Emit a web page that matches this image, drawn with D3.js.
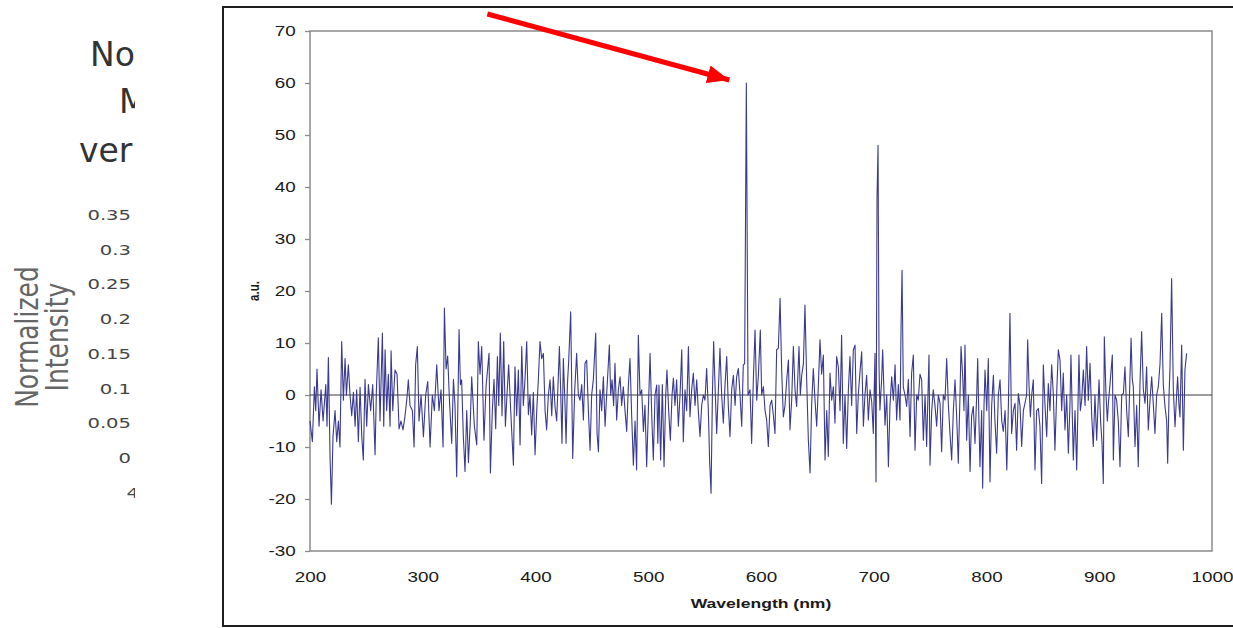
<!DOCTYPE html>
<html>
<head>
<meta charset="UTF-8">
<title>Spectrum</title>
<script src="https://d3js.org/d3.v7.min.js"></script>
<style>
  html, body { margin: 0; padding: 0; background: #fff; }
  svg { display: block; }
</style>
</head>
<body>
<div id="chart"></div>
<script>
// wavelength (nm) and intensity (a.u.), 10 per row
const wavelengthNm = [
  200,202.1,203.9,205.1,206.2,208,209.8,211.6,214,215.1,
  216.3,217.8,219,220.4,222.2,223.7,225.2,226.6,228.1,229.6,
  231.1,232.3,234,235.5,237,238.5,240,241.4,242.9,244.4,
  245.9,247.3,248.8,250.3,251.8,253.8,255.6,257.7,258.9,260.6,
  262.1,264.2,265.4,266.6,268,269.5,271,271.9,273.4,275.4,
  277.2,279,280.7,282.5,284.3,285.8,287.2,288.7,290.8,292.3,
  293.7,295.2,296.7,298.5,300.6,302.6,304.4,306.5,308.5,310.3,
  312.4,314.4,316.2,318,319.2,320.7,322.1,323.9,325.7,327.2,
  328.6,330.1,331.3,332.2,333.4,334.5,336,337.5,339,340.5,
  342.2,343.4,345.8,347.9,349.3,350.8,352.3,354.3,356.1,358.8,
  360,361.7,363.2,364.7,366.2,367.4,368.8,370.3,371.8,373.3,
  374.7,376.2,378,380.4,381.8,383.3,384.8,386.3,387.8,389.2,
  390.7,392.2,393.7,395.1,396.6,398.1,399.6,401.1,402.5,404,
  405.5,407,408.5,409.9,411.4,412.9,414.4,415.8,417.3,418.8,
  421.2,422.3,423.5,424.7,426.2,427.1,428.3,429.4,431.2,433,
  434.8,436.5,438,439.5,441,442.5,443.9,445.4,446.9,448.4,
  449.8,451.3,453.4,454.6,455.8,457.2,458.7,460.2,461.7,463.1,
  465.5,466.7,467.9,469.3,470.5,472,473.5,475,476.4,477.9,
  479.4,480.9,482.4,483.8,485.3,486.8,488.3,489.7,491.2,492.7,
  494.2,495.7,497.1,498.6,500.1,501.6,503.1,504.5,506,507.5,
  508.5,509.5,511,512.5,514,515.5,516.6,518.1,519.6,521.1,
  522.3,523.7,525.2,526.7,528.2,529.7,531.1,532.6,534.1,535.6,
  537,538.5,540,541.5,543,544.4,545.9,547.4,548.9,550.3,
  551.8,553.3,554.5,555.7,556.9,558,559.2,560.7,562.2,563.6,
  565.1,566.6,568.1,569.6,571,572.5,574,575.5,577,578.4,
  579.9,581.4,582.9,584.3,585.5,587,588.5,590.3,591.7,593.2,
  594.7,596.2,597.6,599.4,600.6,602.1,603.6,605,606.5,608,
  609.5,611,612.4,613.9,615.4,616.9,618.3,619.8,621.3,622.8,
  624.3,625.7,627.2,628.7,630.2,631.6,633.7,634.9,636.1,637.6,
  639,640.5,642,643.5,644.9,646.4,647.9,649.4,650.9,652.3,
  653.8,655.3,656.8,658.3,659.7,661.2,662.7,664.2,665.6,667.1,
  668.6,670.1,671.5,673,674.5,676,677.5,678.9,680.4,681.9,
  683.4,684.9,686.3,687.8,689.3,690.8,692.2,693.7,695.2,696.7,
  698.2,699.6,701.1,702,702.9,703.8,704.7,705.5,707,707.9,
  710,711.5,713,714.4,715.9,717.4,718.9,720.3,721.8,723.3,
  724.2,725.1,726.2,727.7,729.2,730.7,732.2,733.6,735.1,736.6,
  738.1,739.5,741,742.5,744,745.5,746.9,749,749.9,751.4,
  752.8,754.3,755.8,757.3,758.8,760.2,761.7,763.2,764.7,766.2,
  767.6,769.1,770.6,772.1,773.5,775,776.5,777.4,778.9,780,
  780.9,782.4,783.9,785.4,786.8,788.3,789.8,791.3,792.2,793.3,
  794.2,795.7,796.6,797.8,798.7,800.2,801.6,803.1,804.6,806.1,
  807.5,809,810.5,812,813.5,814.9,816.5,818,819.4,820.8,
  822.3,823.8,825.3,826.7,828.2,829.7,831.2,832.7,834.1,835.6,
  836.5,837.7,838.9,840.1,841.5,843,844.5,846,847.4,848.9,
  850.4,851.9,853.4,854.8,856.3,857.8,859.3,860.7,862.2,863.7,
  865.2,866.7,868.1,869.6,871.1,872.6,874,874.9,877,878.5,
  880,882,883.2,884.4,885.9,887.4,888.8,890.3,891.8,893.3,
  894.7,896.2,897.7,899.8,901.2,902.4,903.6,904.5,906,907.2,
  908.1,909.5,911.6,912.5,914,915.4,916.9,918.4,919.9,921.4,
  922.8,924.3,925.8,928.2,929.3,930.2,931.7,933.2,934.6,936.1,
  937.6,939.1,940.6,942,943.5,945,946.5,948,949.4,950.9,
  952.4,953.9,955.4,956.8,958.3,959.8,960.7,961.9,962.7,964.2,
  965.7,967.2,968.6,969.5,970.7,971.6,973.1,974.6,976,977.5
];
const intensityAU = [
  -5,-9,1.6,-3,5,-6,1,-5,2,-6,
  7.2,-12,-21,-8,-3,-9,-5,-10,10.3,-1,
  7,0,5.8,0,-4,0.5,-6,1,-9,1.5,
  -8,-12.5,3,-6,2,-3,2,-11.5,1,11,
  -5,11.9,-6,8.7,-3,4,-6,8.5,-3,4.8,
  4,-6.5,-5,-6.7,-4,-1,2.9,-2,-3,-10,
  5.8,9.3,-5,0,-8,0,2.6,-10,0,-3,
  5.8,-3,1,-10,16.7,5,7.5,-2,-9.3,3,
  -2,-15.7,0,12.6,2,2.9,-8,-14.7,-3,-13,
  -5,3.5,-6,-9.6,10.3,4,9.3,-8.7,1.6,8,
  -15,-3,3,-6.5,7.4,-2,11.9,-4,10.3,-6,
  0,5.8,-3,-13.5,5.4,-4,4.8,-9.6,9.3,-2,
  3,10.3,-3.8,0,-7.7,0.5,-11.5,-3,2.9,10.3,
  7,8,-3,-6.7,0,2.9,-4,3.5,-2.2,-5,
  9.3,1,-9.3,7,-2,-9.3,2,6.4,16,-12.2,
  1,8,0,-1,2,-4.8,6.1,6.7,-3,-10.6,
  0,3,11.9,-7.4,-10.9,1,-3,3.5,-6,0,
  9.6,0,2.9,-2,6.1,-4.8,1,3.5,-2,1.6,
  -3,-7,2,7,-4,-13.5,-5,-14.4,11.5,0,
  1,-7,-2,-13.8,-3,8,-4,-12.5,0,1.9,
  -9.3,1.9,-12.5,2,-13.8,0,4.8,-3,-8.7,0,
  3.2,-2,2.9,-6,0,8.7,-9,1,-3,9.3,
  -4.2,1,4.2,-2,2.9,-3,-8,-2,0,-1,
  5.1,-3,-13.1,-18.9,0,10.3,2,-7.4,1,9,
  0,-5.4,2,7.4,-2,-8,1,3.8,-2,3.5,
  5.1,0,-6,5.8,6,60,0,1,-9.3,2.9,
  12.5,-1,3.5,12.5,0,1.6,-3,-4.8,-9.9,-2,
  -1,-4,-7.4,8.7,9,18.6,5,-4.2,-2,2.9,
  6.7,-6.7,-1,9.3,1,-2.2,9.3,0,3.8,6,
  17.3,3,-8.7,-15,-2,5.1,-1,-6,2,10.6,
  4,7.7,-12.5,-3,-11.8,4.2,-1,1.6,-5.4,7.4,
  5.4,-3,11.5,-9.3,0,-10.3,1,7.4,-2,8.7,
  9.6,-7.4,0,4.5,8.3,-6,0,3.8,-4.8,1,
  -1.3,-7.4,8,-16.7,38,48,5,-2.9,3,8.7,
  -5.8,0,-13.8,-2,3.5,-1,5.8,-4.8,2,-4.8,
  13,24,1.5,0,-2.2,3,-8,4.2,7.7,-10.6,
  0,-1,4,2.9,-8.7,0,-9.9,7.7,-13.5,-3,
  1,-2,-6,0,-1.6,-10.9,0,-1,7,-2,
  -7.4,-12.5,-3,2.9,-4,-13.1,0,9.3,3.5,-3,
  9.6,-8.7,0,-14.7,-4,-2.2,-9.3,0,7,-5,
  -13.8,-3,-17.9,-2,4.8,-3,7,-16.7,-2,3.8,
  -5,-11.2,0,2.9,-5,-7,-3,-14.4,-2,15.7,
  -7.4,-3,-1.6,-10.6,0.3,-2,-9.9,-3,-1.6,0,
  10.6,2,-4.2,0,2.9,-14.4,-3,-2.6,-6,-17,
  5.8,-2,-8,2.2,-3,5.8,0,-10.6,0,8.7,
  6.7,-3,4.2,-6.7,0,-11.2,-2,7.7,-12.5,-3,
  -14.4,7.7,-3,-1,4.8,-2,9.3,-1,6.1,-4,
  -9.9,0,-8.7,2.9,-5,-9,-17,11.2,0,-5,
  -1.6,2,7.7,-12.5,0,-1,-5,-13.8,0,0.3,
  5.4,-3,-8,10.9,3,1.6,-9.9,-2,-13.8,2,
  12.2,1,-1.6,5.4,-6.7,-1,3.5,-2,-7.4,0,
  1.6,6,15.7,2,-2.2,-5,-13.1,0,4.8,22.4,
  1,-6.1,0,3.5,-2,-4.2,9.6,-10.6,4.8,8
];
const xTicks = [200,300,400,500,600,700,800,900,1000];
const yTicks = [-30,-20,-10,0,10,20,30,40,50,60,70];
const peakNm = 587, peakValue = 60; // arrow points at this line

// the cut-off slide behind the chart
const slideTitle = ["No","M","ver"];
const slideTicks = ["0.35","0.3","0.25","0.2","0.15","0.1","0.05","0","4"];
const slideAxisTitle = ["Normalized","Intensity"];

const width = 1233, height = 628;
const plot = {left:310, right:1212, top:31, bottom:551};
const sx = 1.3; // the picture is stretched sideways

const svg = d3.select("#chart").append("svg").attr("width",width).attr("height",height);

// ---- left: slide text, clipped by the chart picture
svg.append("clipPath").attr("id","slideClip")
  .append("rect").attr("x",0).attr("y",0).attr("width",135).attr("height",height);
const slide = svg.append("g").attr("clip-path","url(#slideClip)")
  .style("font-family","'DejaVu Sans', sans-serif");

const titleX = [90,119,79], titleY = [66,113,162];
slide.selectAll("text.title").data(slideTitle).join("text")
  .attr("class","title")
  .attr("x",(d,i)=>titleX[i]).attr("y",(d,i)=>titleY[i])
  .attr("font-size",33).attr("fill","#333")
  .text(d=>d);

slide.selectAll("text.stick").data(slideTicks).join("text")
  .attr("class","stick")
  .attr("text-anchor","end")
  .attr("transform",(d,i)=>`translate(${i==8 ? 139 : 131},${220+i*34.7}) scale(1.35,1)`)
  .attr("font-size",14.5).attr("fill","#444")
  .text(d=>d);

slide.selectAll("text.sax").data(slideAxisTitle).join("text")
  .attr("class","sax")
  .attr("text-anchor","middle")
  .attr("transform",(d,i)=>`translate(${38+i*30},337) scale(1.3,1) rotate(-90)`)
  .attr("font-size",25).attr("fill","#666")
  .text(d=>d);

// ---- chart picture frame
svg.append("rect")
  .attr("x",223).attr("y",7).attr("width",1100).attr("height",619)
  .attr("fill","#fff").attr("stroke","#1e1e1e").attr("stroke-width",2);

const x = d3.scaleLinear().domain([200,1000]).range([plot.left,plot.right]);
const y = d3.scaleLinear().domain([-30,70]).range([plot.bottom,plot.top]);

const plain = d => String(d); // hyphen minus, no thousands comma
const yAxis = d3.axisLeft(y).tickValues(yTicks).tickFormat(plain).tickSize(5).tickPadding(6);
const xAxis = d3.axisBottom(x).tickValues(xTicks).tickFormat(plain).tickSize(0).tickPadding(21);

const gy = svg.append("g").attr("transform",`translate(${plot.left},0)`).call(yAxis);
const gx = svg.append("g").attr("transform",`translate(0,${plot.bottom})`).call(xAxis);
[gx,gy].forEach(g=>{
  g.select(".domain").remove();
  g.selectAll("line").attr("stroke","#8a8a8a").attr("stroke-width",1.3);
  g.selectAll("text")
    .attr("font-family","'Liberation Sans', Arial, sans-serif")
    .attr("font-size",14.5).attr("fill","#1a1a1a")
    .attr("transform",`scale(${sx},1)`);
});

// plot area border
svg.append("rect")
  .attr("x",plot.left).attr("y",plot.top)
  .attr("width",plot.right-plot.left).attr("height",plot.bottom-plot.top)
  .attr("fill","none").attr("stroke","#8a8a8a").attr("stroke-width",1.5);

// zero line
svg.append("line")
  .attr("x1",x(200)).attr("x2",x(1000)).attr("y1",y(0)).attr("y2",y(0))
  .attr("stroke","#3a3a3a").attr("stroke-width",1);

// spectrum
const pts = wavelengthNm.map((w,i)=>[w,intensityAU[i]]);
const line = d3.line().x(d=>x(d[0])).y(d=>y(d[1]));
svg.append("path").attr("d",line(pts))
  .attr("fill","none").attr("stroke","#3a3a90").attr("stroke-width",1.1)
  .attr("stroke-linejoin","round");

// axis titles
svg.append("text")
  .attr("transform",`translate(${(plot.left+plot.right)/2},608) scale(${sx},1)`)
  .attr("text-anchor","middle")
  .attr("font-family","'Liberation Sans', Arial, sans-serif")
  .attr("font-size",13.5).attr("font-weight","bold").attr("fill","#1a1a1a")
  .text("Wavelength (nm)");

svg.append("text")
  .attr("transform",`translate(259,${y(20)}) scale(${sx},1) rotate(-90)`)
  .attr("text-anchor","middle")
  .attr("font-family","'Liberation Sans', Arial, sans-serif")
  .attr("font-size",11.5).attr("font-weight","bold").attr("fill","#1a1a1a")
  .text("a.u.");

// red arrow to the strongest line
const tipX = x(peakNm)-17, tipY = y(peakValue)-3;
svg.append("defs").append("marker")
  .attr("id","head").attr("markerUnits","userSpaceOnUse")
  .attr("markerWidth",24).attr("markerHeight",20)
  .attr("refX",22).attr("refY",9).attr("orient","auto")
  .append("path").attr("d","M0,0 L22,9 L0,18 Z").attr("fill","#ff0000");
svg.append("line")
  .attr("x1",tipX-242).attr("y1",tipY-66).attr("x2",tipX).attr("y2",tipY)
  .attr("stroke","#ff0000").attr("stroke-width",5)
  .attr("marker-end","url(#head)");
</script>
</body>
</html>
